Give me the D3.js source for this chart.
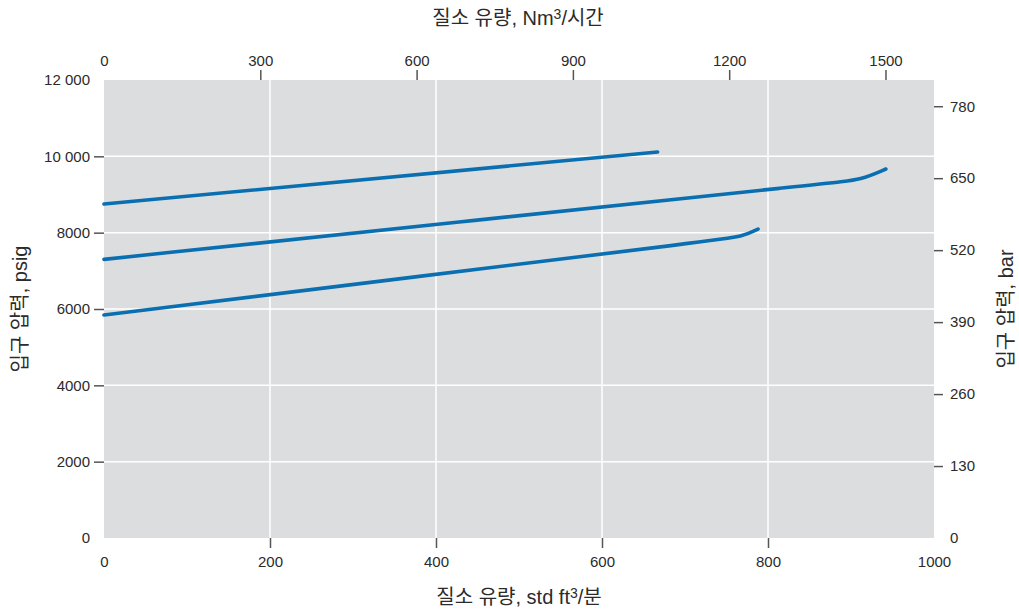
<!DOCTYPE html>
<html>
<head>
<meta charset="utf-8">
<script src="https://cdn.jsdelivr.net/npm/d3@7"></script>
<style>
  body { margin: 0; background: #fff; }
  svg { display: block; }
  text { font-family: "Liberation Sans", Arial, "Noto Sans CJK KR", sans-serif; fill: #2b2b2b; }
  .title { font-family: "Liberation Sans", "Noto Sans CJK KR", sans-serif; }
</style>
</head>
<body>
<script>
// ---- data ----
const bottomTicks = [0, 200, 400, 600, 800, 1000];          // std ft3/min
const topTicks = [0, 300, 600, 900, 1200, 1500];             // Nm3/h
const leftTicks = [0, 2000, 4000, 6000, 8000, 10000, 12000]; // psig
const leftTickLabels = ["0", "2000", "4000", "6000", "8000", "10 000", "12 000"];
const rightTicks = [0, 130, 260, 390, 520, 650, 780];        // bar

const series1 = [[0, 8750], [667, 10114]];
const series2 = [[0, 7300], [450, 8330], [880, 9313], [912, 9386], [942, 9668]];
const series3 = [[0, 5843], [370, 6828], [740, 7813], [768, 7888], [788, 8096]];
const allSeries = [series1, series2, series3];

// ---- layout ----
const W = 1019, H = 611;
const L = 104, R = 934, T = 80, B = 538;

const svg = d3.select("body").append("svg").attr("width", W).attr("height", H);

const x = d3.scaleLinear().domain([0, 1000]).range([L, R]);
const xTop = d3.scaleLinear().domain([0, 1000 / 0.6277]).range([L, R]);
const y = d3.scaleLinear().domain([0, 12000]).range([B, T]);
const yRight = d3.scaleLinear().domain([0, 12000 / 14.5038]).range([B, T]);

// background
svg.append("rect").attr("x", L).attr("y", T).attr("width", R - L).attr("height", B - T).attr("fill", "#dcdddf");

// grid
const gridX = bottomTicks.filter(d => d > 0 && d < 1000);
const gridY = leftTicks.filter(d => d > 0 && d < 12000);
svg.append("g").selectAll("line").data(gridX).join("line")
  .attr("x1", d => x(d)).attr("x2", d => x(d)).attr("y1", T).attr("y2", B)
  .attr("stroke", "#fff").attr("stroke-width", 1.5);
svg.append("g").selectAll("line").data(gridY).join("line")
  .attr("y1", d => y(d)).attr("y2", d => y(d)).attr("x1", L).attr("x2", R)
  .attr("stroke", "#fff").attr("stroke-width", 1.5);

// axes
function styleAxis(g, ends) {
  g.select(".domain").remove();
  g.selectAll(".tick line").attr("stroke", "#555").attr("stroke-width", 1.5)
    .attr("opacity", d => ends.includes(d) ? 0 : 1);
  g.selectAll(".tick text").attr("font-size", 15).style("fill", "#2b2b2b")
    .attr("font-family", "'Liberation Sans', Arial, sans-serif");
}

svg.append("g").attr("transform", `translate(0,${B})`)
  .call(d3.axisBottom(x).tickValues(bottomTicks).tickSize(10).tickPadding(8).tickFormat(d3.format("d")))
  .call(g => styleAxis(g, [0, 1000]));

svg.append("g").attr("transform", `translate(0,${T})`)
  .call(d3.axisTop(xTop).tickValues(topTicks).tickSize(10).tickPadding(4).tickFormat(d3.format("d")))
  .call(g => styleAxis(g, [0]));

svg.append("g").attr("transform", `translate(${L},0)`)
  .call(d3.axisLeft(y).tickValues(leftTicks).tickSize(10).tickPadding(4)
    .tickFormat((d, i) => leftTickLabels[i]))
  .call(g => styleAxis(g, [0, 12000]));

svg.append("g").attr("transform", `translate(${R},0)`)
  .call(d3.axisRight(yRight).tickValues(rightTicks).tickSize(9).tickPadding(7).tickFormat(d3.format("d")))
  .call(g => styleAxis(g, [0]));

// lines
const line = d3.line().x(d => x(d[0])).y(d => y(d[1])).curve(d3.curveBasis);
svg.append("g").selectAll("path").data(allSeries).join("path")
  .attr("d", line).attr("fill", "none").attr("stroke", "#0a6fb1")
  .attr("stroke-width", 3.6).attr("stroke-linecap", "round");

// titles
function title(parent, parts) {
  const t = parent.append("text").attr("class", "title").attr("font-size", 20).attr("text-anchor", "middle");
  parts.forEach(p => {
    if (p.sup) {
      t.append("tspan").attr("font-size", 14).attr("dy", -6).text(p.t);
    } else if (p.after) {
      t.append("tspan").attr("dy", 6).text(p.t);
    } else {
      t.append("tspan").text(p.t);
    }
  });
  return t;
}

title(svg.append("g").attr("transform", "translate(518,25)"),
  [{t: "질소 유량, Nm"}, {t: "3", sup: true}, {t: "/시간", after: true}]);
title(svg.append("g").attr("transform", "translate(519,604)"),
  [{t: "질소 유량, std ft"}, {t: "3", sup: true}, {t: "/분", after: true}]);
title(svg.append("g").attr("transform", "translate(27,309) rotate(-90)"),
  [{t: "입구 압력, psig"}]);
title(svg.append("g").attr("transform", "translate(1013,309) rotate(-90)"),
  [{t: "입구 압력, bar"}]);
</script>
</body>
</html>
